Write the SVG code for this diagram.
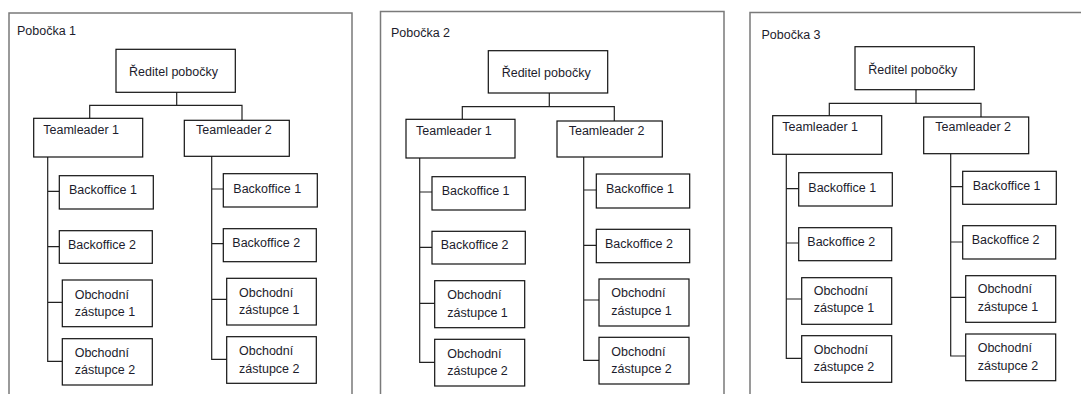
<svg xmlns="http://www.w3.org/2000/svg" width="1081" height="394" viewBox="0 0 1081 394">
<style>
.frame{fill:none;stroke:#7a7a7a;stroke-width:1.5}
.box{fill:#fff;stroke:#111;stroke-width:1.2}
.conn{fill:none;stroke:#222;stroke-width:1.2}
text{font-family:"Liberation Sans",Arial,sans-serif;font-size:12.5px;fill:#1c1c2c}
</style>
<rect width="1081" height="394" fill="#fff"/>
<g id="frames">
<path class="frame" d="M9,400 V13 H352 V400"/>
<path class="frame" d="M380.5,400 V11.5 H724 V400"/>
<path class="frame" d="M750,400 V12.5 H1085"/>
<text x="17" y="35">Pobočka 1</text>
<text x="391" y="37">Pobočka 2</text>
<text x="761.5" y="38.5">Pobočka 3</text>
</g>
<g id="connectors">
<path class="conn" d="M176.7,92 V105.3 M89.7,118 V105.3 H242 V120"/>
<path class="conn" d="M47.7,157 V361.3 H62 M47.7,191.3 H59 M47.7,246.7 H59 M47.7,302.3 H62"/>
<path class="conn" d="M211.7,156 V359.3 H226.7 M211.7,189 H223 M211.7,243.7 H223 M211.7,299.3 H226.7"/>
<path class="conn" d="M549.3,93 V106.7 M462.3,119 V106.7 H614.3 V121"/>
<path class="conn" d="M419.7,158 V362.3 H434.7 M419.7,192 H432 M419.7,247.3 H432 M419.7,303.3 H434.7"/>
<path class="conn" d="M583.7,157 V360.3 H599 M583.7,190 H596.3 M583.7,245.3 H596.3 M583.7,300 H599"/>
<path class="conn" d="M916,89.7 V103.3 M829.3,115.7 V103.3 H981 V117"/>
<path class="conn" d="M786.3,154.3 V358.3 H801.7 M786.3,188.7 H798.7 M786.3,243 H798.7 M786.3,299 H801.7"/>
<path class="conn" d="M950.7,153.7 V356 H965.7 M950.7,186.7 H962.7 M950.7,242 H962.7 M950.7,297.3 H965.7"/>
</g>
<!-- Panel 1 -->
<g id="p1-director"><rect class="box" x="116" y="49.3" width="119.3" height="43"/><text x="129" y="76">Ředitel pobočky</text></g>
<g id="p1-tl1"><rect class="box" x="33.7" y="118.3" width="109" height="38.7"/><text x="43.3" y="133.7">Teamleader 1</text></g>
<g id="p1-tl2"><rect class="box" x="184.3" y="120.3" width="105" height="36"/><text x="196" y="133.5">Teamleader 2</text></g>
<g id="p1-tl1-bo1"><rect class="box" x="59.3" y="175.7" width="94" height="33.3"/><text x="69" y="194.3">Backoffice 1</text></g>
<g id="p1-tl1-bo2"><rect class="box" x="59.3" y="230.7" width="93" height="32.6"/><text x="68" y="249">Backoffice 2</text></g>
<g id="p1-tl1-oz1"><rect class="box" x="62.3" y="280" width="90" height="46.7"/><text x="74.7" y="299">Obchodní</text><text x="74.7" y="315.7">zástupce 1</text></g>
<g id="p1-tl1-oz2"><rect class="box" x="62.3" y="338.7" width="90" height="46.3"/><text x="74.7" y="357">Obchodní</text><text x="74.7" y="374">zástupce 2</text></g>
<g id="p1-tl2-bo1"><rect class="box" x="223.3" y="173.7" width="94" height="33.3"/><text x="233.3" y="192.7">Backoffice 1</text></g>
<g id="p1-tl2-bo2"><rect class="box" x="223.3" y="228.7" width="93" height="33"/><text x="232.3" y="247.3">Backoffice 2</text></g>
<g id="p1-tl2-oz1"><rect class="box" x="226.7" y="278.3" width="89.6" height="46.7"/><text x="239" y="296.7">Obchodní</text><text x="239" y="314">zástupce 1</text></g>
<g id="p1-tl2-oz2"><rect class="box" x="226.7" y="336.7" width="89.6" height="46.6"/><text x="239" y="355.3">Obchodní</text><text x="239" y="372.7">zástupce 2</text></g>
<!-- Panel 2 -->
<g id="p2-director"><rect class="box" x="488.3" y="50.7" width="119.4" height="42.3"/><text x="501.7" y="76.7">Ředitel pobočky</text></g>
<g id="p2-tl1"><rect class="box" x="406" y="119.3" width="109" height="38.7"/><text x="416" y="135">Teamleader 1</text></g>
<g id="p2-tl2"><rect class="box" x="557" y="121" width="105.3" height="36"/><text x="568.7" y="135">Teamleader 2</text></g>
<g id="p2-tl1-bo1"><rect class="box" x="432" y="176.7" width="93.3" height="33.3"/><text x="441.7" y="195">Backoffice 1</text></g>
<g id="p2-tl1-bo2"><rect class="box" x="432" y="231.3" width="93.3" height="32.7"/><text x="440.7" y="249.3">Backoffice 2</text></g>
<g id="p2-tl1-oz1"><rect class="box" x="434.7" y="280.7" width="90" height="47"/><text x="447.3" y="299.3">Obchodní</text><text x="447.3" y="316.7">zástupce 1</text></g>
<g id="p2-tl1-oz2"><rect class="box" x="434.7" y="339.3" width="90" height="46.7"/><text x="447.3" y="357.7">Obchodní</text><text x="447.3" y="375">zástupce 2</text></g>
<g id="p2-tl2-bo1"><rect class="box" x="596.3" y="174" width="93.4" height="34"/><text x="606" y="193.3">Backoffice 1</text></g>
<g id="p2-tl2-bo2"><rect class="box" x="596.3" y="229.3" width="93.4" height="33.4"/><text x="605" y="247.7">Backoffice 2</text></g>
<g id="p2-tl2-oz1"><rect class="box" x="599" y="279" width="90" height="47"/><text x="611.3" y="297.3">Obchodní</text><text x="611.3" y="314.7">zástupce 1</text></g>
<g id="p2-tl2-oz2"><rect class="box" x="599" y="337.3" width="90" height="46.7"/><text x="611.3" y="355.7">Obchodní</text><text x="611.3" y="373">zástupce 2</text></g>
<!-- Panel 3 -->
<g id="p3-director"><rect class="box" x="855" y="46.7" width="119.3" height="43"/><text x="868.3" y="74">Ředitel pobočky</text></g>
<g id="p3-tl1"><rect class="box" x="772.7" y="115.7" width="109" height="38.6"/><text x="782.3" y="130.7">Teamleader 1</text></g>
<g id="p3-tl2"><rect class="box" x="923.7" y="117" width="105" height="36.7"/><text x="935.3" y="130.7">Teamleader 2</text></g>
<g id="p3-tl1-bo1"><rect class="box" x="798.7" y="172.7" width="93.6" height="33.3"/><text x="808.3" y="191.7">Backoffice 1</text></g>
<g id="p3-tl1-bo2"><rect class="box" x="798.7" y="227.7" width="93" height="33"/><text x="807.3" y="245.7">Backoffice 2</text></g>
<g id="p3-tl1-oz1"><rect class="box" x="801.7" y="277.7" width="90" height="46.6"/><text x="813.7" y="295">Obchodní</text><text x="813.7" y="312.3">zástupce 1</text></g>
<g id="p3-tl1-oz2"><rect class="box" x="801.7" y="335.7" width="90" height="46.6"/><text x="813.7" y="354">Obchodní</text><text x="813.7" y="371">zástupce 2</text></g>
<g id="p3-tl2-bo1"><rect class="box" x="962.7" y="171.3" width="93.6" height="33"/><text x="972.7" y="190">Backoffice 1</text></g>
<g id="p3-tl2-bo2"><rect class="box" x="962.7" y="225.7" width="93" height="33.3"/><text x="971.7" y="244.3">Backoffice 2</text></g>
<g id="p3-tl2-oz1"><rect class="box" x="965.7" y="275.7" width="90" height="46.6"/><text x="977.7" y="293.3">Obchodní</text><text x="977.7" y="310.7">zástupce 1</text></g>
<g id="p3-tl2-oz2"><rect class="box" x="965.7" y="334" width="90" height="46.7"/><text x="977.7" y="352.3">Obchodní</text><text x="977.7" y="369.7">zástupce 2</text></g>
</svg>
